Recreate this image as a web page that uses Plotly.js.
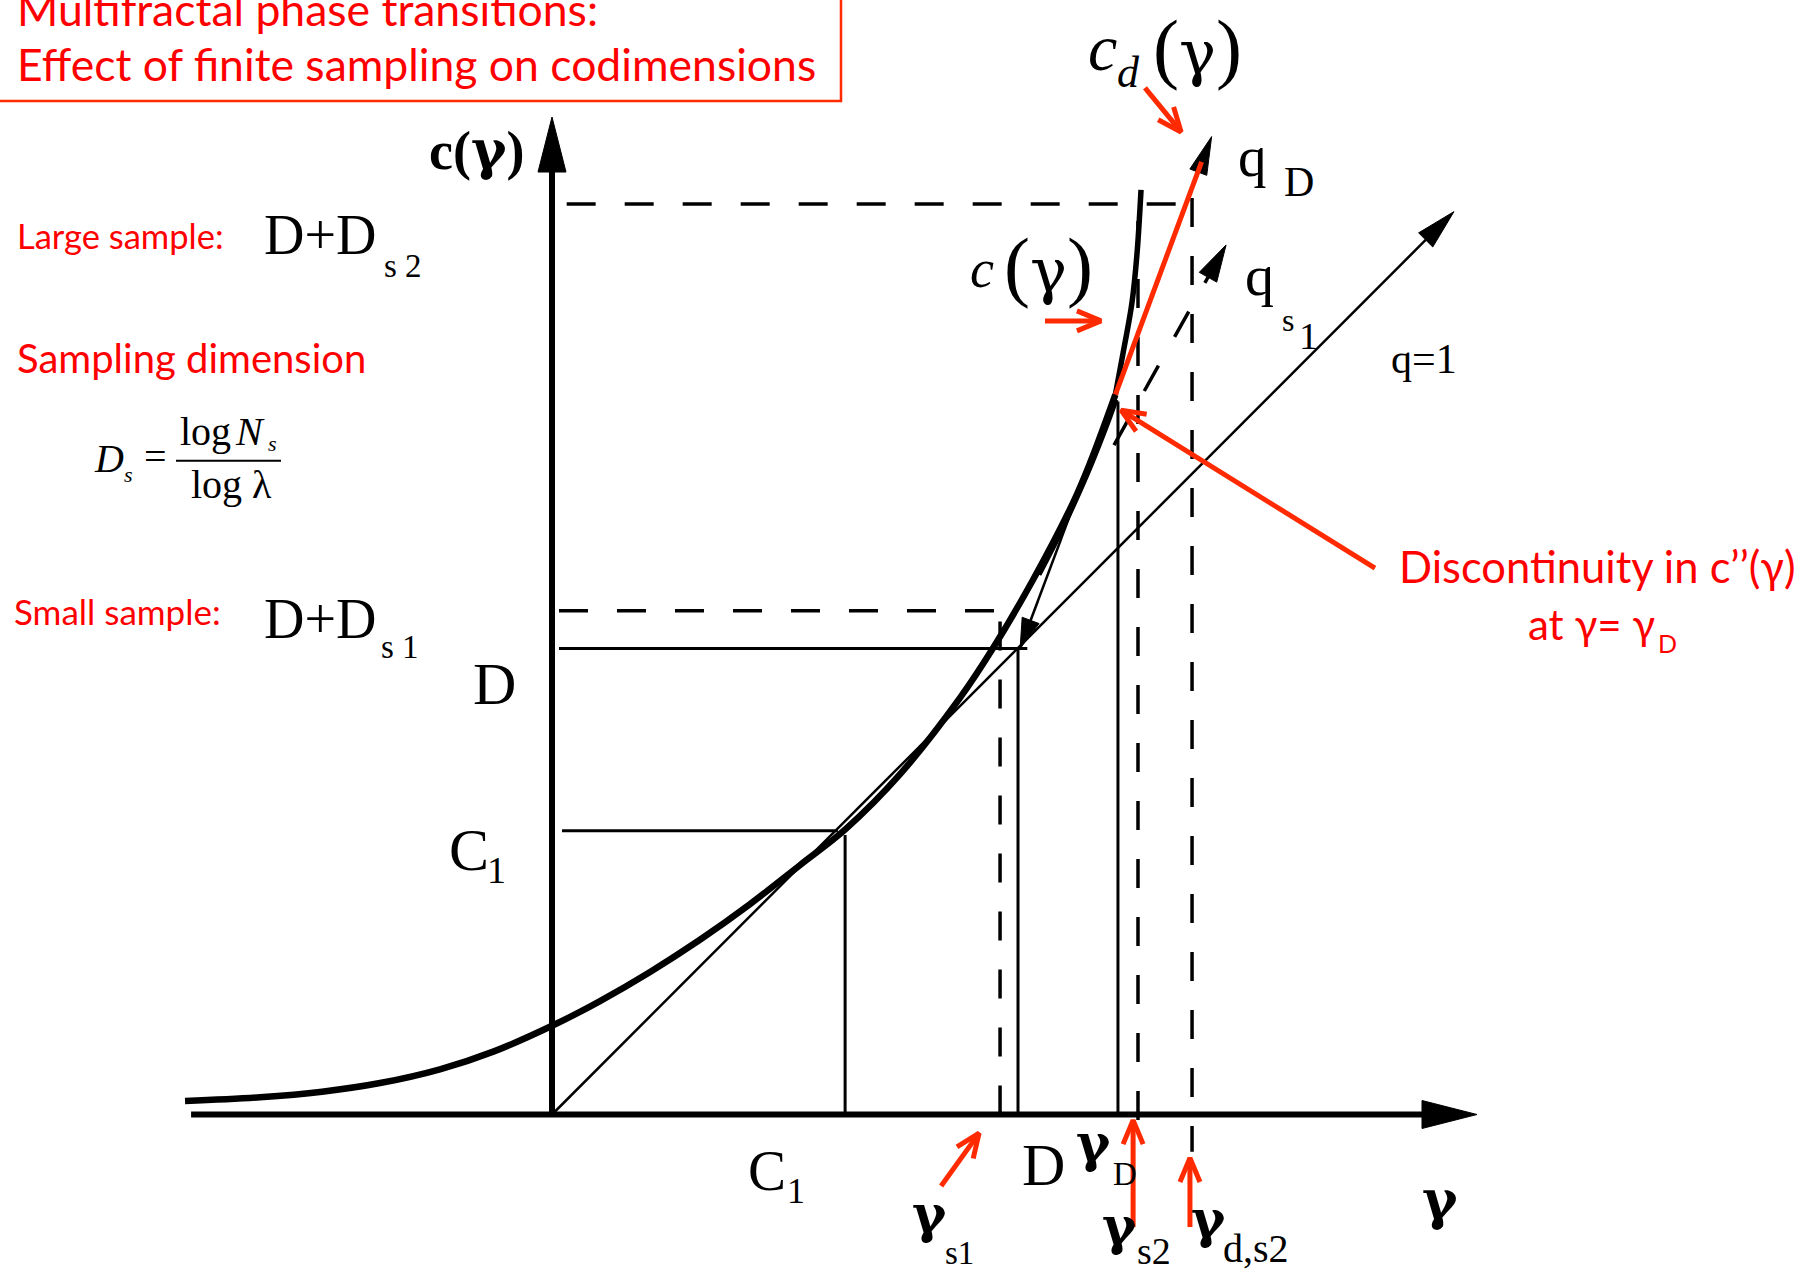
<!DOCTYPE html>
<html>
<head>
<meta charset="utf-8">
<script src="https://cdn.plot.ly/plotly-3.0.1.min.js"></script>
<style>
  html, body { margin: 0; padding: 0; background: #ffffff; }
  #chart { width: 1816px; height: 1272px; }
</style>
</head>
<body>
<div id="chart"></div>
<script>
// ---------------------------------------------------------------
// Codimension function c(γ), in codimension units (D = 2)
// ---------------------------------------------------------------
const curveGamma = [-1.575, -1.253, -0.987, -0.738, -0.481, -0.249, 0.007, 0.206, 0.421, 0.635, 0.850, 1.064, 1.260, 1.494, 1.751, 1.893, 2.064, 2.236, 2.309, 2.418];
const curveC     = [ 0.058,  0.074,  0.098,  0.135,  0.194,  0.271, 0.384, 0.487, 0.612, 0.750, 0.903, 1.070, 1.225, 1.461, 1.788, 2.002, 2.294, 2.625, 2.796, 3.090];
// finite-sample estimate hugging c(γ) just below γ_D
const sampleGamma = [2.094, 2.197, 2.300, 2.378, 2.425];
const sampleC     = [2.315, 2.517, 2.744, 2.938, 3.067];
// branch of c(γ) continuing above γ_D
const upperGamma = [2.418, 2.451, 2.489, 2.511, 2.528];
const upperC     = [3.090, 3.268, 3.483, 3.697, 3.968];

// characteristic codimensions and singularities
const C1 = 1.218, D = 2.0, Ds1 = 0.162, Ds2 = 1.908;
const gammaC1 = 1.258, gammaS1 = 1.923, gammaD = 2.429, gammaS2 = 2.515, gammaDS2 = 2.747;

// axes (γ and c(γ))
const gammaAxis = [-1.549, 3.970];
const cAxisTop = 4.281;

// tangent lines
const qOneGamma = [0, 3.871],     qOneC = [0, 3.875];
const qDGamma   = [2.009, 2.831], qDC   = [2.0, 4.197];
const qS1Gamma  = [2.412, 2.893], qS1C  = [2.873, 3.732];
// dressed codimension c_d(γ): linear beyond γ_D
const cdGamma   = [2.418, 2.788], cdC   = [3.090, 4.089];

// red pointers: tail -> tip
const pointerFromGamma = [2.545, 2.116, 3.532, 1.670, 2.494, 2.738];
const pointerFromC     = [4.406, 3.406, 2.345, -0.307, -0.483, -0.483];
const pointerToGamma   = [2.700, 2.356, 2.442, 1.833, 2.494, 2.738];
const pointerToC       = [4.217, 3.406, 3.023, -0.080, -0.024, -0.187];

// ---------------------------------------------------------------
const W = 1816, H = 1272, UNIT = 233, ORIGIN_X = 552, ORIGIN_Y = 1114.5;
const BLACK = '#000000', RED = '#ff2a00', RED_TEXT = '#ff0000';
const SERIF = '"Liberation Serif", "Times New Roman", serif';
const GREEK = '"DejaVu Serif", serif';
const SANS = 'Lato, "Noto Sans", sans-serif';
const DASH = '29px,29px';

const traces = [];
function addLine(x, y, width, color, dash, shape) {
  traces.push({
    type: 'scatter', mode: 'lines', x: x, y: y, hoverinfo: 'skip',
    line: { width: width, color: color, dash: dash || 'solid', shape: shape || 'linear', smoothing: 1 }
  });
}
// geometry of an arrow head at (g1,c1) coming from (g0,c0); sizes in screen pixels
function headPoints(g0, c0, g1, c1, len, half) {
  const dx = g1 - g0, dy = c1 - c0, L = Math.hypot(dx, dy);
  const ux = dx / L, uy = dy / L, l = len / UNIT, h = half / UNIT;
  const bx = g1 - ux * l, by = c1 - uy * l;
  return { bx: bx, by: by, left: [bx - uy * h, by + ux * h], right: [bx + uy * h, by - ux * h] };
}
function addSolidHead(g0, c0, g1, c1, len, half) {
  const p = headPoints(g0, c0, g1, c1, len, half);
  traces.push({
    type: 'scatter', mode: 'lines', fill: 'toself', fillcolor: BLACK, hoverinfo: 'skip',
    x: [g1, p.left[0], p.right[0], g1], y: [c1, p.left[1], p.right[1], c1],
    line: { width: 1, color: BLACK }
  });
  return p;
}
function addArrow(g0, c0, g1, c1, width, len, half, dash) {
  const p = headPoints(g0, c0, g1, c1, len, half);
  addLine([g0, p.bx + (g1 - p.bx) * 0.3], [c0, p.by + (c1 - p.by) * 0.3], width, BLACK, dash);
  addSolidHead(g0, c0, g1, c1, len, half);
}
function addPointer(g0, c0, g1, c1) {
  const p = headPoints(g0, c0, g1, c1, 24, 10);
  addLine([g0, g1], [c0, c1], 5, RED);
  addLine([p.left[0], g1, p.right[0]], [p.left[1], c1, p.right[1]], 5, RED);
}

// construction lines
addLine([0.043, 1.227], [C1, C1], 3, BLACK);
addLine([gammaC1, gammaC1], [0, 1.20], 3, BLACK);
addLine([0.03, 2.04], [D, D], 3, BLACK);
addLine([D, D], [0, D], 3, BLACK);
addLine([0.03, 1.905], [D + Ds1, D + Ds1], 3.5, BLACK, DASH);
addLine([gammaS1, gammaS1], [0, D + Ds1], 3.5, BLACK, DASH);
addLine([0.063, gammaDS2], [D + Ds2, D + Ds2], 3.5, BLACK, DASH);
addLine([gammaD, gammaD], [0, 3.06], 3, BLACK);
addLine([gammaS2, gammaS2], [-0.024, D + Ds2], 3.5, BLACK, DASH);
addLine([gammaDS2, gammaDS2], [3.933, -0.16], 3.5, BLACK, DASH);

// axes
addArrow(gammaAxis[0], 0, gammaAxis[1], 0, 6, 55, 14);
addArrow(0, 0, 0, cAxisTop, 6, 55, 14);

// q = 1 tangent (bisectrix)
addArrow(qOneGamma[0], qOneC[0], qOneGamma[1], qOneC[1], 2.5, 40, 10);
// q_D line, arrow heads at both ends
addArrow(qDGamma[0], qDC[0], qDGamma[1], qDC[1], 2.5, 38, 9);
addSolidHead(qDGamma[1], qDC[1], qDGamma[0], qDC[0], 30, 9);
// q_s1 (dashed)
(function () {
  const p = headPoints(qS1Gamma[0], qS1C[0], qS1Gamma[1], qS1C[1], 37, 10);
  addLine([qS1Gamma[0], p.bx], [qS1C[0], p.by], 3.5, BLACK, '29px,33px');
  addSolidHead(qS1Gamma[0], qS1C[0], qS1Gamma[1], qS1C[1], 37, 10);
})();

// c(γ)
addLine(sampleGamma, sampleC, 3, BLACK, 'solid', 'spline');
addLine(curveGamma, curveC, 6.5, BLACK, 'solid', 'spline');
addLine(upperGamma, upperC, 5.5, BLACK, 'solid', 'spline');

// c_d(γ)
addLine(cdGamma, cdC, 5, RED);

// pointers
for (let i = 0; i < pointerFromGamma.length; i++) {
  addPointer(pointerFromGamma[i], pointerFromC[i], pointerToGamma[i], pointerToC[i]);
}

// ---------------------------------------------------------------
// text
function label(text, left, baseline, size, family, color) {
  const k = family === SANS ? 0.387 : 0.3375;
  return {
    xref: 'paper', yref: 'paper', x: left / W, y: 1 - (baseline - k * size) / H,
    xanchor: 'left', yanchor: 'middle', showarrow: false, borderpad: 0,
    text: text, font: { family: family, size: size, color: color }
  };
}
const serif = (t, l, b, s) => label(t, l, b, s, SERIF, BLACK);
const greek = (t, l, b, s) => label(t, l, b, s, GREEK, BLACK);
const sans = (t, l, b, s) => label(t, l, b, s, SANS, RED_TEXT);
const g = '<span style="font-family:DejaVu Serif">γ</span>';
const gSmall = '<span style="font-family:DejaVu Serif;font-size:62px">γ</span>';

const annotations = [
  sans('Multifractal phase transitions:', 16, 26, 44.5),
  sans('Effect of finite sampling on codimensions', 16, 81, 44.5),
  sans('Large sample:', 16, 249, 34.5),
  sans('Sampling dimension', 16, 373, 40),
  sans('Small sample:', 13, 625, 35),
  sans('Discontinuity in c’’(γ)', 1398, 583, 43.5),
  sans('at γ= γ', 1527, 640, 42),
  sans('D', 1657, 653, 25),

  serif('D+D', 263, 254, 56), serif('s 2', 383, 277, 33),
  serif('D+D', 263, 638, 56), serif('s 1', 380, 658, 33),

  serif('<i>D</i>', 93, 472, 40), serif('<i>s</i>', 123, 482, 22),
  serif('=', 143, 470, 40),
  serif('log', 179, 445, 40), serif('<i>N</i>', 234, 445, 40), serif('<i>s</i>', 267, 451, 22),
  serif('log λ', 190, 498, 40),

  serif('<b>c(' + g + ')</b>', 428, 168, 54),
  serif('D', 472, 704, 60),
  serif('C', 448, 870, 60), serif('1', 486, 883, 38),
  serif('C', 747, 1190, 57), serif('1', 786, 1203, 36),
  serif('D', 1021, 1185, 60),
  greek('<b>γ</b>', 1075, 1160, 52), serif('D', 1112, 1185, 33),
  greek('<b>γ</b>', 911, 1231, 52), serif('s1', 944, 1264, 33),
  greek('<b>γ</b>', 1101, 1243, 52), serif('s2', 1136, 1264, 38),
  greek('<b>γ</b>', 1190, 1236, 52), serif('d,s2', 1222, 1262, 40),
  greek('<b>γ</b>', 1421, 1218, 54),

  serif('<i>c</i>', 1087, 70, 66), serif('<i>d</i>', 1116, 87, 44), serif('(' + gSmall + ')', 1152, 74, 78),
  serif('<i>c</i>', 969, 287, 54), serif('(' + gSmall + ')', 1003, 292, 78),
  serif('q', 1237, 176, 57), serif('D', 1283, 196, 42),
  serif('q', 1244, 295, 58), serif('s', 1281, 331, 32), serif('1', 1298, 349, 38),
  serif('q=1', 1390, 373, 42)
];

const shapes = [
  { type: 'rect', xref: 'paper', yref: 'paper', x0: -0.01, x1: 841 / W, y0: 1 - 101 / H, y1: 1.01,
    line: { color: RED, width: 2.5 } },
  { type: 'line', xref: 'paper', yref: 'paper', x0: 176 / W, x1: 281 / W, y0: 1 - 460.7 / H, y1: 1 - 460.7 / H,
    line: { color: BLACK, width: 2 } }
];

const layout = {
  width: W, height: H,
  margin: { l: 0, r: 0, t: 0, b: 0, pad: 0 },
  paper_bgcolor: '#ffffff', plot_bgcolor: '#ffffff',
  showlegend: false,
  xaxis: { range: [-ORIGIN_X / UNIT, (W - ORIGIN_X) / UNIT], visible: false, fixedrange: true },
  yaxis: { range: [-(H - ORIGIN_Y) / UNIT, ORIGIN_Y / UNIT], visible: false, fixedrange: true },
  annotations: annotations,
  shapes: shapes
};

Plotly.newPlot('chart', traces, layout, { staticPlot: true, displayModeBar: false });
</script>
</body>
</html>
